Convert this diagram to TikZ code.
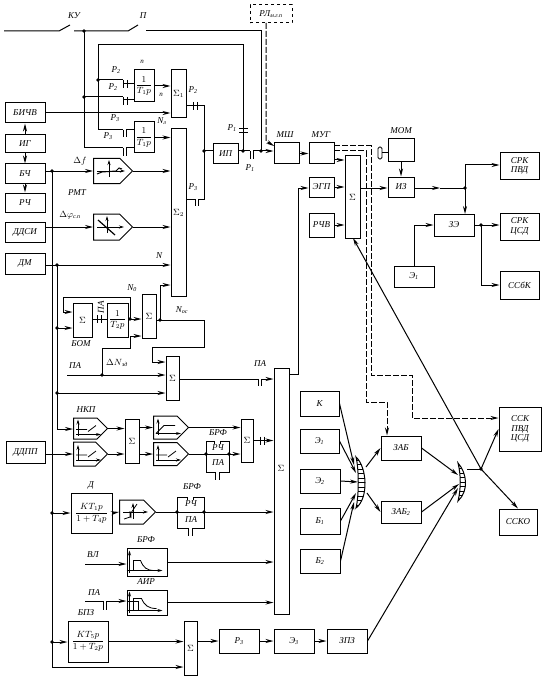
\documentclass[tikz,border=0pt]{standalone}
\usepackage{amsmath}
\usepackage{fontspec}
\setmainfont{Liberation Serif}
\usetikzlibrary{arrows.meta, shapes.symbols, calc}

\begin{document}
\begin{tikzpicture}[x=1pt, y=-1pt,
    block/.style={rectangle, draw, line width=1pt, inner sep=0pt, align=center, font=\itshape\fontsize{9}{9.5}\selectfont},
    pent/.style={signal, signal to=east, draw, line width=1pt, inner sep=0pt, anchor=west},
    lbl/.style={inner sep=0pt, font=\itshape\fontsize{9}{9.5}\selectfont},
    conn/.style={line width=1pt},
    arrow/.style={conn, -{Stealth[length=8pt, width=4pt]}},
    dasharrow/.style={arrow, dash pattern=on 6pt off 2pt},
    glyph/.style={line width=0.8pt},
    glypharrow/.style={line width=0.8pt, -{Stealth[length=5pt, width=3pt]}}
]
\useasboundingbox (0,0) rectangle (545,679);

% Blocks
\foreach \nm/\cx/\cy/\bw/\bh/\txt in {
    bichv/25/113/40/20/БИЧВ, ig/25/144/40/18/ИГ, bch/25/173.5/40/19/БЧ, rch/25/202.5/40/19/РЧ,
    ddsi/25/232/40/20/ДДСИ, dm/25/263.5/40/21/ДМ, ddpp/25.5/452/39/22/ДДПП,
    t1a/144/86/20/32/{$\dfrac{1}{T_1p}$}, t1b/144/137.5/20/31/{$\dfrac{1}{T_1p}$},
    suma/178.5/94/15/48/{$\Sigma_1$}, sumb/178.5/212.5/15/167/{$\Sigma_2$},
    ip/225.5/154/25/20/ИП, msh/286.5/153.5/25/21/{}, mug/321.5/153.5/25/21/{},
    egp/321.5/187/25/20/ЭГП, rchv/321.5/225/25/24/РЧВ, sumc/352.5/197/15/82/{$\Sigma$},
    mom/401/150.5/26/23/{}, iz/401/187/26/20/ИЗ, zeb/454/225/40/22/ЗЭ,
    ea/414/276.5/40/21/{Э\textsubscript{1}}, srka/519.5/166/39/26/{СРК\\ПВД},
    srkb/519.5/226.5/39/27/{СРК\\ЦСД}, ssbk/519.5/285/39/28/ССбК,
    sbom/82.5/320/19/34/{$\Sigma$}, t2/117.5/320/21/34/{$\dfrac{1}{T_2p}$},
    sumd/149/316/14/44/{$\Sigma$}, sume/172.5/378/13/44/{$\Sigma$}, sumf/281.5/491/15/246/{},
    sumg/132/441/14/44/{$\Sigma$}, sumh/247/440.5/12/43/{$\Sigma$},
    kta/91.5/513/41/40/{$\dfrac{KT_1p}{1+T_4p}$}, ktb/88/641.5/40/41/{$\dfrac{KT_5p}{1+T_2p}$},
    filtb/147/562/40/28/{}, filta/147/602.5/40/25/{}, sumi/190.5/648/13/54/{$\Sigma$},
    prs/239/641/40/24/{Р\textsubscript{3}}, eb/294/641/40/24/{Э\textsubscript{3}}, zpz/347/641/40/24/ЗПЗ,
    k/319.5/403.5/39/25/К, eea/319.5/441/39/24/{Э\textsubscript{1}}, eeb/320/481/40/24/{Э\textsubscript{2}},
    ba/320/521/40/26/{Б\textsubscript{1}}, bb/320/561/40/24/{Б\textsubscript{2}},
    zab/401/448/40/24/ЗАБ, zabb/401/512/40/22/{ЗАБ\textsubscript{2}},
    ssk/520/429/42/44/{ССК\\ПВД\\ЦСД}, ssko/518/522/38/26/ССКО} {
    \node[block, minimum width=\bw, minimum height=\bh] (\nm) at (\cx,\cy) {\txt};
}
\node[block, dashed, minimum width=42, minimum height=18] (rl) at (271,14) {РЛ\textsubscript{м.г.п}};
\node[rectangle, draw, rounded corners=1.5pt, line width=0.9pt, minimum width=4, minimum height=12, inner sep=0pt] (momk) at (380,153) {};

% Signal blocks
\foreach \nm/\cx/\cy/\bw/\bh in {
    pmta/93/171/39/25, pmtb/93/227/39/26, nkpa/73/428.5/34/21, nkpb/73/454/34/24,
    nkpc/153/427.5/35/23, nkpd/153/454/35/23, pde/119/512/36/24} {
    \node[pent, minimum width=\bw, minimum height=\bh] (\nm) at (\cx,\cy) {};
}

% Labels
\foreach \nm/\cx/\cy/\txt in {
    lku/74/16/КУ, ln/143/16/П, lpa/116/70/{Р\textsubscript{2}}, lpb/113/87/{Р\textsubscript{2}},
    lpc/115/118/{Р\textsubscript{3}}, lpd/108/136/{Р\textsubscript{3}}, lna/142/62/{\fontsize{7}{7}\selectfont n},
    lnb/161/95/{\fontsize{7}{7}\selectfont n}, lnl/162/121/{\textit{N}\textsubscript{л}},
    lpe/193/90/{Р\textsubscript{2}}, lpf/193/187/{Р\textsubscript{3}}, lpg/232/128/{Р\textsubscript{1}},
    lph/250/168/{Р\textsubscript{1}}, lmsh/285/135/МШ, lmug/321/135/МУГ, lmom/401/131/МОМ,
    ldf/80/161/{$\Delta f$}, lrmt/77/193/РМТ, ldp/70/215/{$\Delta\varphi$\textsubscript{с.п}},
    lnn/159/256/\textit{N}, lnz/132/288/{\textit{N}\textsubscript{0}}, lnos/182/310/{\textit{N}\textsubscript{ос}},
    lbom/81/344/БОМ, lpaa/75/366/ПА, ldn/117/363/{$\Delta N$\textsubscript{зд}}, lpab/260/364/ПА,
    lnkp/86/410/НКП, lbrfa/218/433/БРФ, lrcha/218/448/РЧ, lpac/218/463/ПА, lde/91/485/Д,
    lbrfb/192/487/БРФ, lrchb/191/504/РЧ, lpad/191/520/ПА, lbrfc/146/540/БРФ, lvl/93/555/ВЛ,
    lair/146/582/АИР, lpae/94/593/ПА, lbpz/86/613/БПЗ, lsumf/281/468/{$\Sigma$}} {
    \node[lbl] (\nm) at (\cx,\cy) {\txt};
}
\node[lbl, rotate=90] (lpaf) at (101,307) {ПА};

% Junctions and free ends
\foreach \nm/\cx/\cy in {
    kua/4/31, kub/59/31, kuc/70/25, kud/74/31, nb/128/31, nc/138/25, nd/146/31, ne/261/31, nf/261/151,
    ja/84/31, jb/84/97, jc/84/148, jd/123/148, je/126/148, jf/123/97,
    la/98/130, lb/98/45, lc/243/45, lj/243/151, lf/98/80, lg/123/80, lh/123/130, li/126/130,
    ma/123/84, mb/123/100, pa/204/106, pb/204/151, pg/204/199, pd/195/199, pe/198/199,
    qa/250/151, qb/253/151, rla/266/23, rlb/266/141, rlc/274/146,
    mda/334/146, mdb/371/146, mdc/371/375, mdd/412/375, mde/412/418,
    mdf/334/151, mdg/366/151, mdh/366/402, mdi/387/402,
    ua/465/188, ub/465/165, uc/465/214, ud/440/188, ue/414/225, uf/481/225, ug/481/285,
    va/52/171, vb/52/513, vc/52/642, vd/52/667, wa/57/265, wb/57/328, wc/57/393, wd/57/429,
    xa/130/319, xb/130/297, xc/63/297, xd/63/312, ya/160/320, yb/160/285, yc/204/320, yd/204/347,
    ye/152/347, yf/152/362, za/67/375, zb/102/375, zc/102/348, zd/130/348, zf/130/336,
    sa/258/379, sb/261/379, ta/289/374, tb/298/374, tc/298/188,
    hb/85/601, hc/103/601, hd/106/601, he/85/564, dg/481/469,
    fa/206/454, fb/229/454, fc/177/512, fd/204/512} {
    \coordinate (\nm) at (\cx,\cy);
}

% Switches and top bus
\draw[conn] (kua) -- (kub) -- (kuc);
\draw[conn] (kud) -- (nb) -- (nc);
\draw[conn] (nd) -- (ne) -- (nf);
\draw[arrow] (nf) -- (msh.west |- nf);
\draw[conn] (ja) -- (jc) -- (jd);
\draw[conn] (jb) -- (jf);
\draw[conn] (la) -- (lb) -- (lc) -- (lj);
\draw[conn] (lf) -- (lg);
\draw[conn] (la) -- (lh);
\draw[conn] (ma) -- (t1a.west |- ma);
\draw[conn] (mb) -- (t1a.west |- mb);
\draw[conn] (li) -- (t1b.west |- li);
\draw[conn] (je) -- (t1b.west |- je);
\draw[arrow] (t1a.east) -- (t1a.east -| suma.west);
\draw[arrow] (t1b.east) -- (t1b.east -| sumb.west);
\draw[arrow] (bichv.east) -- (bichv.east -| suma.west);
\draw[conn] (suma.east |- pa) -- (pa) -- (pg) -- (pe);
\draw[conn] (pd) -- (pd -| sumb.east);
\draw[conn] (pb) -- (ip.west |- pb);
\draw[conn] (ip.east |- qa) -- (qa);
\draw[conn] (qb) -- (nf);

% Dashed lines
\draw[dasharrow] (rla) -- (rlb) -- (rlc);
\draw[dasharrow] (mda) -- (mdb) -- (mdc) -- (mdd) -- (mde) -- (ssk.west |- mde);
\draw[dasharrow] (mdf) -- (mdg) -- (mdh) -- (mdi) -- (mdi |- zab.north);

% Left column
\draw[arrow] (ig.north) -- (bichv.south);
\draw[arrow] (ig.south) -- (bch.north);
\draw[arrow] (bch.south) -- (rch.north);
\draw[arrow] (bch.east |- va) -- (pmta.west);
\draw[arrow] (pmta.east) -- (pmta.east -| sumb.west);
\draw[arrow] (ddsi.east |- pmtb.west) -- (pmtb.west);
\draw[arrow] (pmtb.east) -- (pmtb.east -| sumb.west);
\draw[conn] (va) -- (vd);
\draw[arrow] (vd) -- (vd -| sumi.west);
\draw[arrow] (vb) -- (vb -| kta.west);
\draw[arrow] (vc) -- (vc -| ktb.west);
\draw[arrow] (dm.east |- wa) -- (wa -| sumb.west);
\draw[conn] (wa) -- (wd);
\draw[arrow] (wd) -- (wd -| nkpa.west);
\draw[arrow] (wb) -- (wb -| sbom.west);
\draw[arrow] (wc) -- (wc -| sume.west);
\draw[arrow] (ddpp.east |- nkpb.west) -- (nkpb.west);

% Loop around the integrator
\draw[conn] (sbom.east |- xa) -- (t2.west |- xa);
\draw[arrow] (t2.east |- xa) -- (xa -| sumd.west);
\draw[conn] (xa) -- (xb) -- (xc) -- (xd);
\draw[arrow] (xd) -- (xd -| sbom.west);
\draw[conn] (sumd.east |- ya) -- (yc) -- (yd) -- (ye) -- (yf);
\draw[arrow] (yf) -- (yf -| sume.west);
\draw[conn] (ya) -- (yb);
\draw[arrow] (yb) -- (yb -| sumb.west);
\draw[arrow] (za) -- (za -| sume.west);
\draw[conn] (zb) -- (zc) -- (zd) -- (zf);
\draw[arrow] (zf) -- (zf -| sumd.west);
\draw[conn] (sume.east |- sa) -- (sa);
\draw[arrow] (sb) -- (sb -| sumf.west);
\draw[conn] (ta -| sumf.east) -- (tb) -- (tc);
\draw[arrow] (tc) -- (tc -| egp.west);

% Lower branches
\draw[arrow] (nkpa.east) -- (nkpa.east -| sumg.west);
\draw[arrow] (nkpb.east) -- (nkpb.east -| sumg.west);
\draw[arrow] (sumg.east |- nkpc.west) -- (nkpc.west);
\draw[arrow] (sumg.east |- nkpd.west) -- (nkpd.west);
\draw[arrow] (nkpc.east) -- (nkpc.east -| sumh.west);
\draw[conn] (nkpd.east) -- (fa);
\draw[arrow] (fb) -- (fb -| sumh.west);
\draw[arrow] (sumh.east) -- (sumh.east -| sumf.west);
\draw[arrow] (kta.east) -- (pde.west);
\draw[conn] (pde.east) -- (fc);
\draw[arrow] (fd) -- (fd -| sumf.west);
\draw[arrow] (he) -- (he -| filtb.west);
\draw[arrow] (filtb.east) -- (filtb.east -| sumf.west);
\draw[conn] (hb) -- (hc);
\draw[arrow] (hd) -- (hd -| filta.west);
\draw[arrow] (filta.east) -- (filta.east -| sumf.west);
\draw[arrow] (ktb.east) -- (ktb.east -| sumi.west);
\draw[arrow] (sumi.east |- prs.west) -- (prs.west);
\draw[arrow] (prs.east) -- (eb.west);
\draw[arrow] (eb.east) -- (zpz.west);

% Right part
\draw[arrow] (msh.east) -- (mug.west);
\draw[arrow] (mug.east |- 0,160) -- (sumc.west |- 0,160);
\draw[arrow] (egp.east) -- (egp.east -| sumc.west);
\draw[arrow] (rchv.east) -- (rchv.east -| sumc.west);
\draw[arrow] (sumc.east |- ua) -- (iz.west |- ua);
\draw[conn] (momk.east) -- (mom.west |- momk);
\draw[arrow] (mom.south) -- (iz.north);
\draw[arrow] (iz.east |- ud) -- (ud);
\draw[conn] (ud) -- (ua) -- (ub);
\draw[arrow] (ub) -- (ub -| srka.west);
\draw[arrow] (ua) -- (uc);
\draw[conn] (ea.north -| ue) -- (ue);
\draw[arrow] (ue) -- (zeb.west);
\draw[conn] (zeb.east) -- (uf);
\draw[arrow] (uf) -- (srkb.west |- uf);
\draw[conn] (uf) -- (ug);
\draw[arrow] (ug) -- (ssbk.west |- ug);

% Hatched gates
\foreach \gx/\gy/\gh/\gw in {356/482.5/25.5/11, 458/482/19/9} {
    \begin{scope}
        \clip (\gx,\gy-\gh) .. controls (\gx+\gw,\gy-\gh+10) and (\gx+\gw+2,\gy+\gh-10) .. (\gx,\gy+\gh)
              .. controls (\gx+3,\gy+\gh-12) and (\gx+3,\gy-\gh+12) .. cycle;
        \foreach \hy in {-27,-22.5,...,27} {
            \draw[glyph] (\gx-2,\gy+\hy) -- (\gx+\gw+3,\gy+\hy);
        }
    \end{scope}
    \draw[conn] (\gx,\gy-\gh) .. controls (\gx+\gw,\gy-\gh+10) and (\gx+\gw+2,\gy+\gh-10) .. (\gx,\gy+\gh)
          .. controls (\gx+3,\gy+\gh-12) and (\gx+3,\gy-\gh+12) .. cycle;
}
\coordinate (gaa) at (354,465);
\coordinate (gab) at (356,473);
\coordinate (gac) at (358,482);
\coordinate (gad) at (356,493);
\coordinate (gae) at (354,502);
\coordinate (gaf) at (366,467);
\coordinate (gag) at (367,493);
\coordinate (gba) at (458,475);
\coordinate (gbb) at (459,484);
\coordinate (gbc) at (458,488);
\coordinate (gbd) at (467,469);
\coordinate (gbe) at (353,238);
\draw[arrow] (k.east) -- (gaa);
\draw[arrow] (eea.east) -- (gab);
\draw[arrow] (eeb.east) -- (gac);
\draw[arrow] (ba.east) -- (gad);
\draw[arrow] (bb.east) -- (gae);
\draw[arrow] (gaf) -- (zab.west);
\draw[arrow] (gag) -- (zabb.west);
\draw[arrow] (zab.east) -- (gba);
\draw[arrow] (zabb.east) -- (gbb);
\draw[arrow] (zpz.east) -- (gbc);
\draw[conn] (gbd) -- (dg);
\draw[arrow] (dg) -- (ssk.west);
\draw[arrow] (dg) -- (ssko.north);
\draw[arrow] (dg) -- (gbe);

% Contacts, open and crossed
\foreach \cx/\cy/\cl/\cg in {123/80/8/4, 123/97/8/4, 123/130/7/3, 123/148/8/3, 195/199/7/3, 250/151/8/3, 258/379/7/3, 103/601/9/3} {
    \draw[conn] (\cx,\cy) -- ++(0,\cl) (\cx+\cg,\cy) -- ++(0,\cl);
}
\foreach \cx/\cy in {195/106, 99/319, 262/440.5} {
    \draw[conn] (\cx-2,\cy-4) -- ++(0,8) (\cx+2,\cy-4) -- ++(0,8);
}
\draw[conn] (239,129) -- ++(9,0) (239,133) -- ++(9,0);

% Dots
\foreach \p in {ja, jb, lf, pb, lj, nf, ua, uf, va, vb, vc, wa, wb, wc, xa, ya, zb, dg} {
    \fill (\p) circle (1.8);
}

% РЧ and ПА frames
\foreach \fx/\fy/\fw/\fh/\fm in {206/441/23/31/454, 177/497/27/31/512} {
    \draw[conn] (\fx+\fw/2-3,\fy+3) -- ++(0,-3) -- (\fx,\fy) -- (\fx,\fy+\fh) -- (\fx+\fw/2-2,\fy+\fh) -- ++(0,8);
    \draw[conn] (\fx+\fw/2+3,\fy+3) -- ++(0,-3) -- (\fx+\fw,\fy) -- (\fx+\fw,\fy+\fh) -- (\fx+\fw/2+2,\fy+\fh) -- ++(0,8);
    \draw[conn] (\fx,\fm) -- (\fx+\fw,\fm);
    \fill (\fx,\fm) circle (1.8) (\fx+\fw,\fm) circle (1.8);
}

% Characteristics inside the signal blocks
\begin{scope}[shift={(pmta.west)}]
    \draw[glypharrow] (16,6) -- (16,-11);
    \draw[glypharrow] (4,0) -- (32,0);
    \draw[conn] (4,3) -- (9,1) -- (23,0) -- (26,-3) -- (29,-2);
\end{scope}
\begin{scope}[shift={(pmtb.west)}]
    \draw[glypharrow] (14,6) -- (14,-11);
    \draw[glypharrow] (4,0) -- (31,0);
    \draw[conn, line width=1.2pt] (5,-7) -- (22,8);
\end{scope}
\foreach \nm in {nkpa, nkpb, nkpd} {
    \begin{scope}[shift={(\nm.west)}]
        \draw[glypharrow] (5,7) -- (5,-9);
        \draw[glypharrow] (3,6) -- (28,6);
        \draw[glyph] (3,1) -- (14,1) (15,3) -- (23,-3);
    \end{scope}
}
\begin{scope}[shift={(nkpc.west)}]
    \draw[glypharrow] (5,7) -- (5,-9);
    \draw[glypharrow] (3,6) -- (28,6);
    \draw[glyph] (3,6) -- (11,-2) -- (22,-2);
\end{scope}
\begin{scope}[shift={(pde.west)}]
    \draw[glypharrow] (14,7) -- (14,-9);
    \draw[glypharrow] (4,0) -- (29,0);
    \draw[glyph] (5,7) -- (11,5) -- (11,-1) (12,6) -- (12,1) -- (18,-8);
\end{scope}
\begin{scope}[shift={(filtb.south west)}]
    \draw[glypharrow] (3,-4) -- (3,-26);
    \draw[glypharrow] (0,-6) -- (36,-6);
    \draw[glyph] (7,-6) -- (7,-16) -- (14,-16) .. controls (17,-9) and (20,-6) .. (28,-6);
\end{scope}
\begin{scope}[shift={(filta.south west)}]
    \draw[glypharrow] (3,-3) -- (3,-24);
    \draw[glypharrow] (0,-5) -- (36,-5);
    \draw[glyph] (7,-5) -- (7,-17) -- (15,-17) .. controls (18,-10) and (22,-7) .. (30,-7);
    \draw[glyph] (1,-14) -- (12,-14) -- (12,-5);
\end{scope}
\end{tikzpicture}
\end{document}
